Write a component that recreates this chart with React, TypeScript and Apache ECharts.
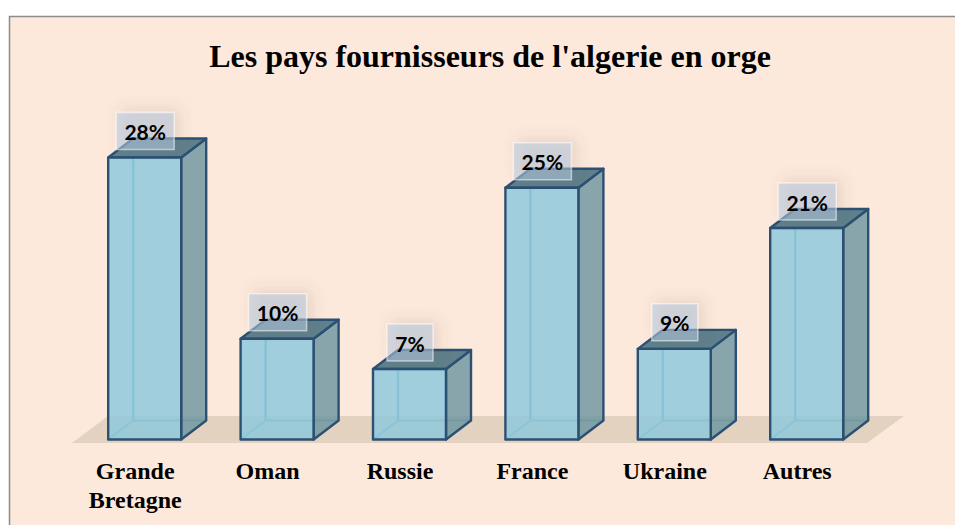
import React, { useEffect, useRef } from "react";
import * as echarts from "echarts";

const titleText = "Les pays fournisseurs de l'algerie en orge";
const categories = ["Grande\nBretagne", "Oman", "Russie", "France", "Ukraine", "Autres"];
const shares = [28, 10, 7, 25, 9, 21];

const W = 955;
const H = 525;
const BG = "#fde9db";
const LINE = "#2c5072";

function renderBox(params: any, api: any) {
  const c = api.coord([api.value(0), api.value(1)]);
  const base = api.coord([api.value(0), 0]);
  const l = c[0] - 27;
  const r = c[0] + 46;
  const t = c[1];
  const b = base[1];
  const dx = 25;
  const dy = -19;
  const label = `${api.value(1)}%`;
  const boxW = 22 + 12 * label.length;
  const boxCx = c[0] + 10;
  const edge = (x1: number, y1: number, x2: number, y2: number, stroke: string, lineWidth: number) => ({
    type: "line",
    silent: true,
    shape: { x1, y1, x2, y2 },
    style: { stroke, lineWidth, lineCap: "round" },
  });
  const poly = (points: number[][], fill: string) => ({
    type: "polygon",
    silent: true,
    shape: { points },
    style: { fill, stroke: LINE, lineWidth: 2.4, lineJoin: "round" },
  });
  return {
    type: "group",
    children: [
      edge(l + dx, t + dy, l + dx, b + dy, "#6ea4ba", 2.4),
      edge(l + dx, b + dy, r + dx, b + dy, "#84a9b6", 2),
      edge(l, b, l + dx, b + dy, "#7fb4c8", 2),
      poly([[r, t], [r + dx, t + dy], [r + dx, b + dy], [r, b]], "rgba(108,150,160,0.82)"),
      poly([[l, t], [l + dx, t + dy], [r + dx, t + dy], [r, t]], "#5f808c"),
      poly([[l, t], [r, t], [r, b], [l, b]], "rgba(140,200,220,0.82)"),
      {
        type: "rect",
        silent: true,
        shape: { x: boxCx - boxW / 2, y: t - 45, width: boxW, height: 37 },
        style: {
          fill: "rgba(180,200,222,0.55)",
          stroke: "rgba(255,255,255,0.5)",
          lineWidth: 1.5,
          shadowBlur: 14,
          shadowOffsetX: 5,
          shadowOffsetY: -3,
          shadowColor: "rgba(90,80,70,0.25)",
        },
      },
      {
        type: "text",
        silent: true,
        style: {
          x: boxCx,
          y: t - 26,
          text: label,
          align: "center",
          verticalAlign: "middle",
          fill: "#000",
          font: "bold 21px Lato",
        },
      },
    ],
  };
}

export default function App() {
  const ref = useRef<HTMLDivElement>(null);
  useEffect(() => {
    const chart = echarts.init(ref.current!, null, { renderer: "svg" });
    chart.setOption({
      animation: false,
      backgroundColor: "#ffffff",
      title: {
        text: titleText,
        left: 485,
        top: 35,
        textAlign: "center",
        textStyle: { fontFamily: "Liberation Serif", fontWeight: "bold", fontSize: 32, color: "#000" },
      },
      graphic: [
        {
          type: "rect",
          z: -10,
          shape: { x: 9.5, y: 16.5, width: W, height: H },
          style: { fill: BG, stroke: "#8c8c8c", lineWidth: 1.5 },
        },
        {
          type: "polygon",
          z: -9,
          shape: { points: [[72, 443], [108, 416], [904, 416], [867, 443]] },
          style: { fill: "#e3d2bf" },
        },
      ],
      grid: { left: 69, width: 794.4, top: 137.4, height: 302.1, containLabel: false },
      xAxis: {
        type: "category",
        data: categories,
        axisLine: { show: false },
        axisTick: { show: false },
        axisLabel: {
          interval: 0,
          margin: 17,
          lineHeight: 29,
          fontFamily: "Liberation Serif",
          fontWeight: "bold",
          fontSize: 24,
          color: "#000",
        },
      },
      yAxis: { type: "value", min: 0, max: 30, show: false, splitLine: { show: false } },
      series: [
        {
          type: "custom",
          clip: false,
          data: shares.map((v, i) => [i, v]),
          encode: { x: 0, y: 1 },
          renderItem: renderBox,
        },
      ],
    });
    return () => chart.dispose();
  }, []);
  return <div ref={ref} style={{ position: "fixed", left: 0, top: 0, width: W, height: H }} />;
}
